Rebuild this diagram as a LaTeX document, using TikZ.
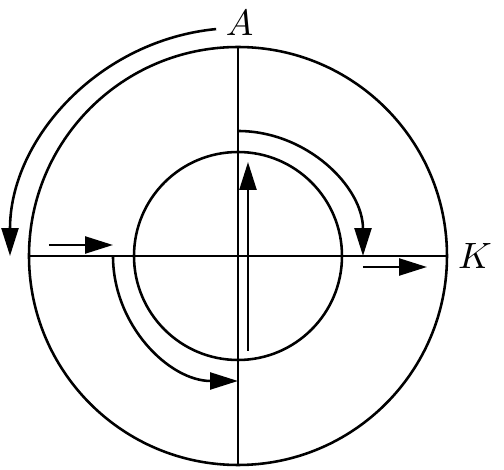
\documentclass[tikz,border=0pt]{standalone}
\usetikzlibrary{arrows.meta}
\begin{document}
\begin{tikzpicture}[>={Triangle[length=7.6pt,width=4.6pt]},line join=bevel,x=2.73pt,y=2.73pt]
      \pgfsetlinewidth{0.7pt}
      \useasboundingbox (-23.8,-21.4) rectangle (26.6,25.6);
      %% 
      \coordinate (O) at (0,0);
      \coordinate (north) at (0,20.9);
      \coordinate (south) at (0,-20.9);
      \coordinate (west) at (-20.9,0);
      \coordinate (east) at (20.9,0);
      % Node: outer ring
      \draw (O) circle[radius=20.9];
      % Node: inner ring
      \draw (O) circle[radius=10.4];
      % Edge: west -- east
      \draw (west) -- (east);
      % Edge: north -- south
      \draw (north) -- (south);
      % Node: A
      \node (A) at (0.15,23.35) {$A$};
      % Node: K
      \node (K) at (23.7,0) {$K$};
      % Edge: A -> west (outer)
      \coordinate (a_0) at (95.5:22.8);
      \draw [->] (a_0) arc[start angle=95.5,end angle=180,radius=22.8];
      % Edge: north -> east (inner)
      \coordinate (a_1) at (0,12.5);
      \draw [->] (a_1) arc[start angle=90,end angle=0,radius=12.5];
      % Edge: west -> south (inner)
      \coordinate (a_2) at (-12.5,0);
      \draw [->] (a_2) arc[start angle=180,end angle=270,radius=12.5];
      % Edge: in_1 -> out_1
      \coordinate (in_1) at (-18.9,1.1);
      \coordinate (out_1) at (-12.5,1.1);
      \draw [->] (in_1) -- (out_1);
      % Edge: in_2 -> out_2
      \coordinate (in_2) at (12.5,-1.1);
      \coordinate (out_2) at (18.9,-1.1);
      \draw [->] (in_2) -- (out_2);
      % Edge: bottom -> top
      \coordinate (b_1) at (1.0,-9.5);
      \coordinate (t_1) at (1.0,9.4);
      \draw [->] (b_1) -- (t_1);
      % 
\end{tikzpicture}
\end{document}
